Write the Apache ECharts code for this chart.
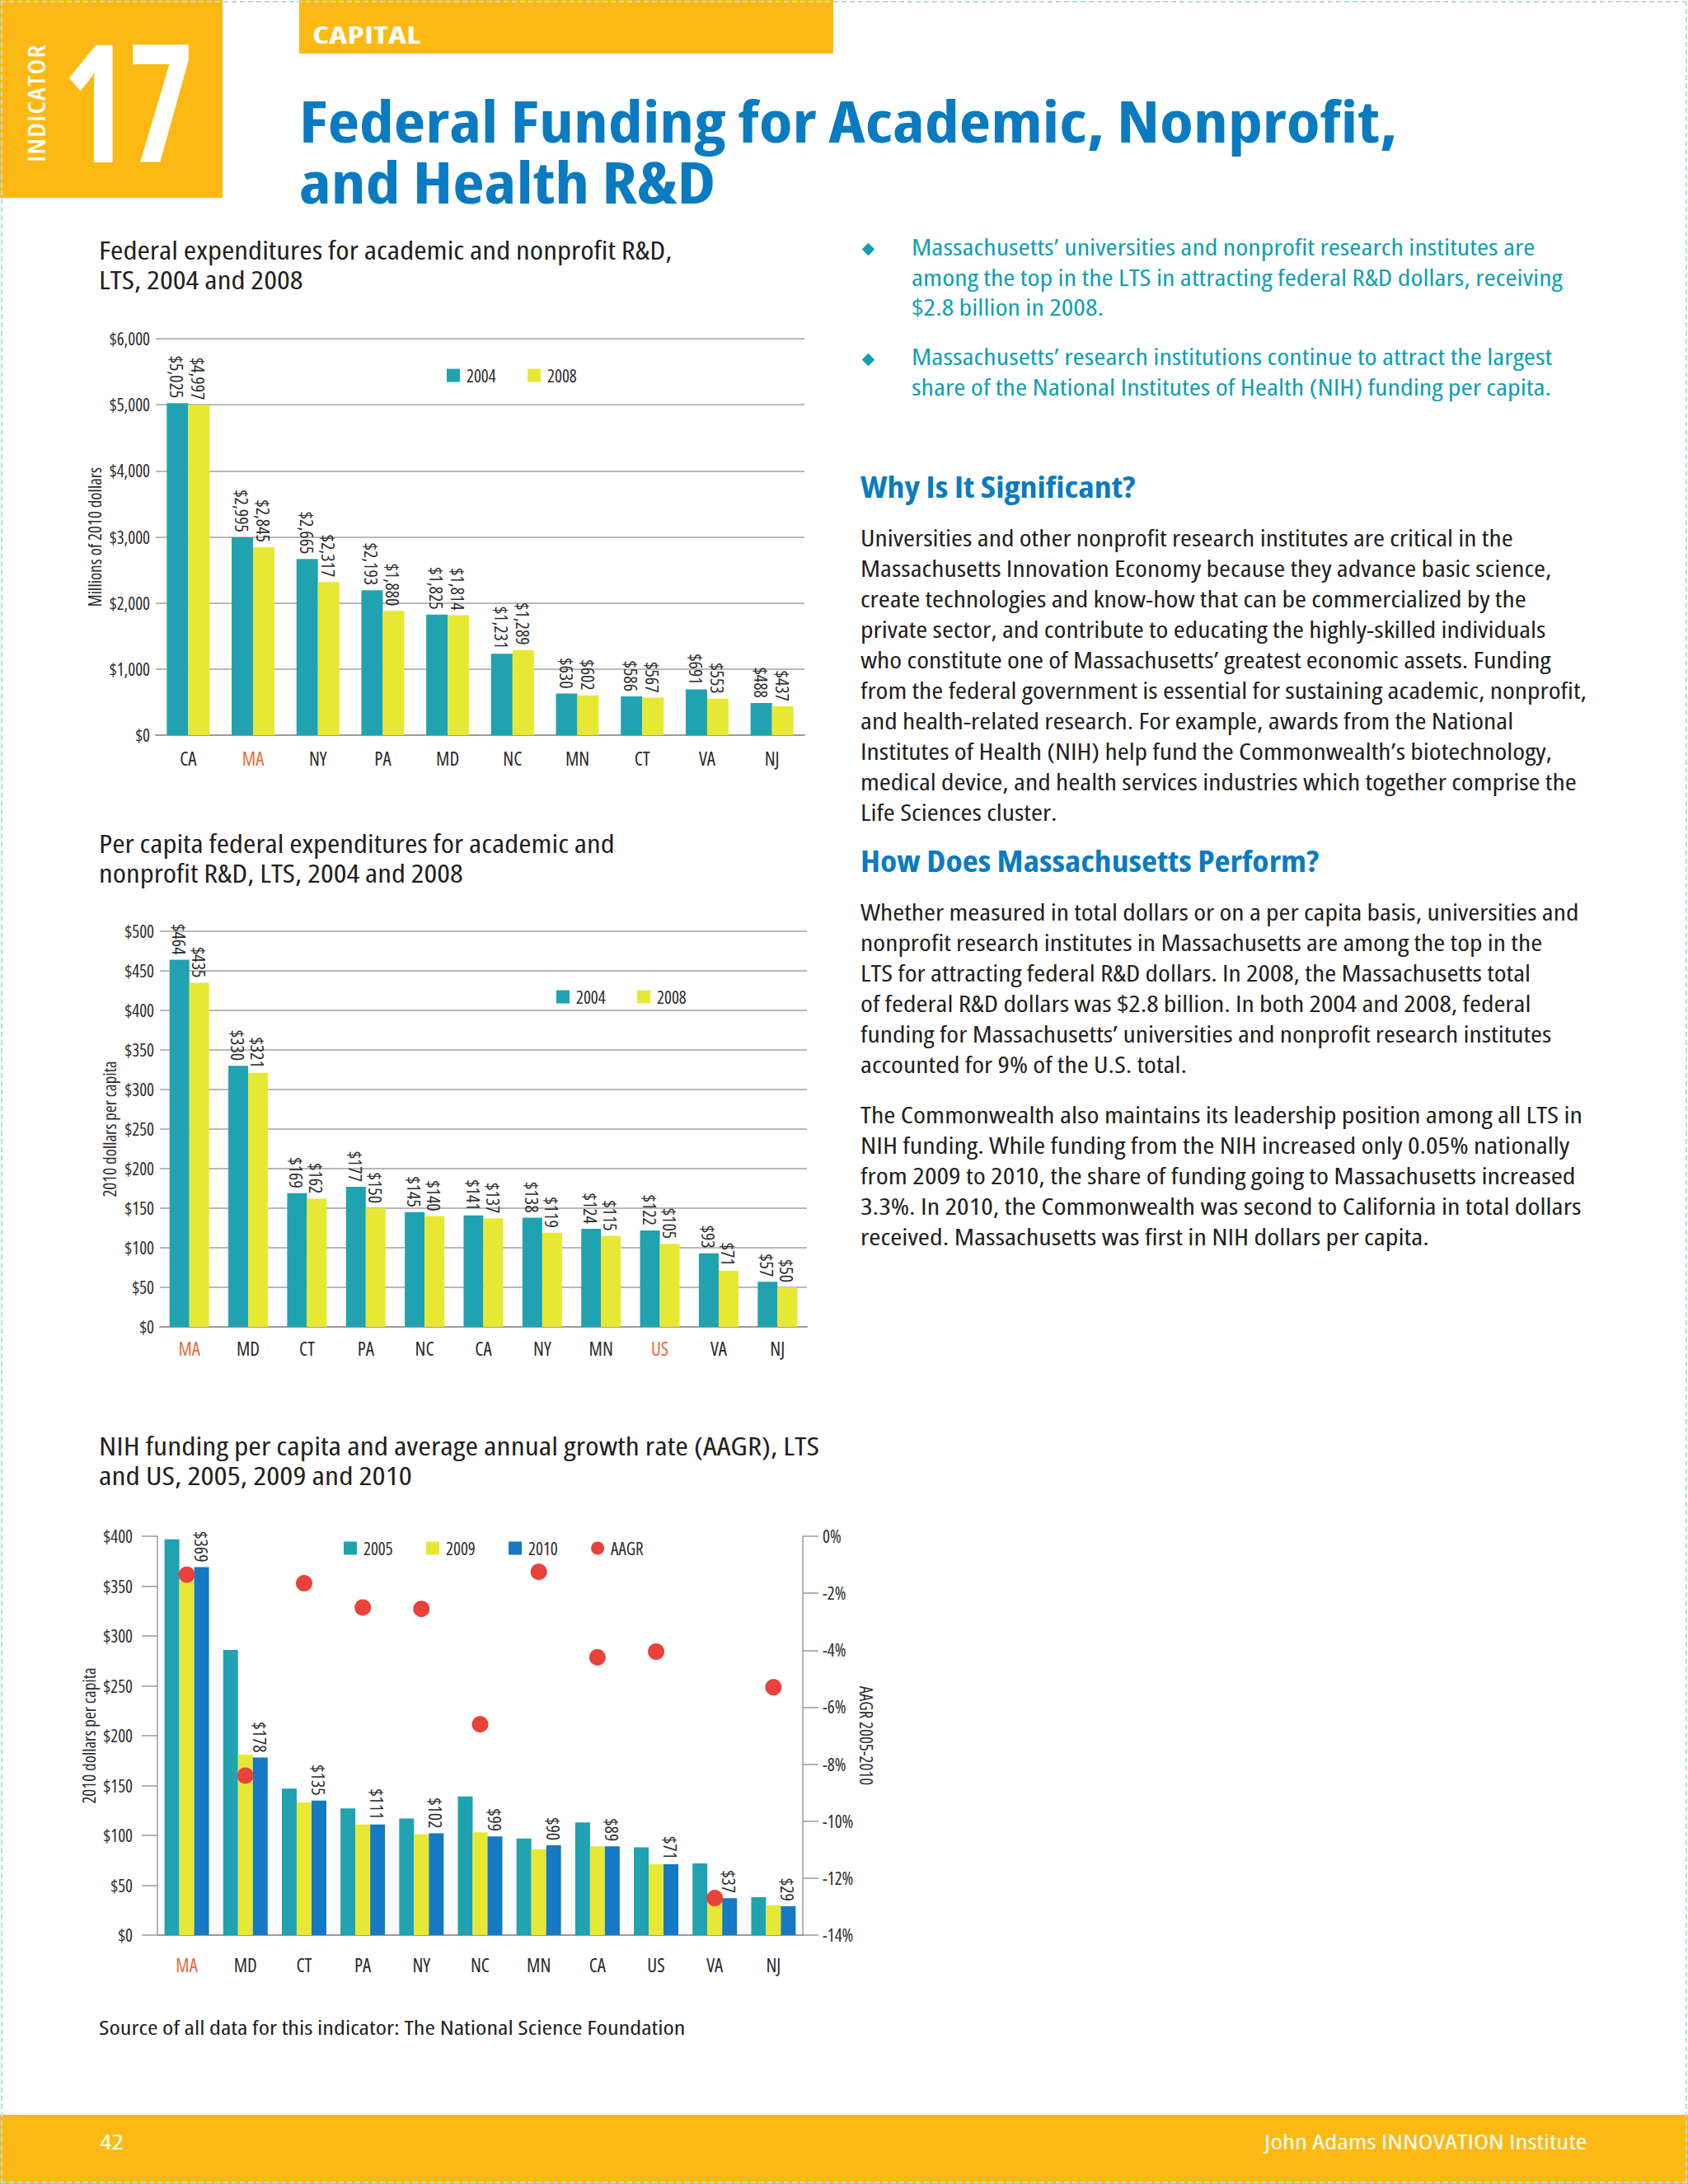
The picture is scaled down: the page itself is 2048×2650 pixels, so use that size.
<!DOCTYPE html>
<html>
<head>
<meta charset="utf-8">
<script src="https://cdn.jsdelivr.net/npm/echarts@6/dist/echarts.min.js"></script>
<style>
  html, body { margin: 0; padding: 0; background: #fff; }
  #page { position: relative; width: 2048px; height: 2650px; overflow: hidden;
          font-family: "Open Sans", sans-serif; font-stretch: 80%; color: #231f20; }
  .abs { position: absolute; white-space: nowrap; }
  .border { position: absolute; left: 1px; top: 1px; width: 2042px; height: 2644px;
            border: 2px dashed #b7ddd6; z-index: 5; pointer-events: none; }
  .yel { position: absolute; background: #fdb913; }
  .chart { position: absolute; }
  .chart text { font-stretch: 75% !important; }
  .diamond { position: absolute; width: 11px; height: 11px; background: #0fa0b2; transform: rotate(45deg); }
  .bullet { color: #0fa0b2; font-size: 28px; line-height: 36.5px; }
  .body { font-size: 28px; line-height: 37px; }
  .head { color: #0a7bc1; font-weight: bold; font-size: 36px; line-height: 40px; }
  .ctitle { font-size: 30px; line-height: 36px; }
</style>
</head>
<body>
<div id="page">
  <div class="border"></div>

  <!-- header -->
  <div class="yel" style="left:0;top:0;width:270px;height:240px"></div>
  <div class="abs" id="indicator" style="left:43px;top:125px;color:#fff;font-weight:600;font-size:29px;line-height:29px;letter-spacing:1px">INDICATOR</div>
  <div class="abs fit" data-w="159" style="left:76px;top:20px;color:#fff;font-weight:bold;font-size:199px;line-height:199px">17</div>
  <div class="yel" style="left:363px;top:0;width:648px;height:65px"></div>
  <div class="abs fit" data-w="132" style="left:379px;top:28px;color:#fff;font-weight:bold;font-size:28px;line-height:28px">CAPITAL</div>
  <div class="abs fit" data-w="1332" style="left:363px;top:109px;color:#0a7bc1;font-weight:bold;font-size:70px;line-height:74px">Federal Funding for Academic, Nonprofit,<br>and Health R&amp;D</div>

  <!-- chart titles -->
  <div class="abs ctitle fit" data-w="695" style="left:120px;top:286px">Federal expenditures for academic and nonprofit R&amp;D,<br>LTS, 2004 and 2008</div>
  <div class="abs ctitle fit" data-w="625" style="left:120px;top:1006px">Per capita federal expenditures for academic and<br>nonprofit R&amp;D, LTS, 2004 and 2008</div>
  <div class="abs ctitle fit" data-w="874" style="left:120px;top:1737px">NIH funding per capita and average annual growth rate (AAGR), LTS<br>and US, 2005, 2009 and 2010</div>

  <div id="c1" class="chart" style="left:0;top:370px;width:1000px;height:600px"></div>
  <div id="c2" class="chart" style="left:0;top:1090px;width:1000px;height:600px"></div>
  <div id="c3" class="chart" style="left:0;top:1820px;width:1100px;height:600px"></div>

  <!-- right column -->
  <div class="diamond" style="left:1048px;top:297px"></div>
  <div class="abs bullet fit" data-w="790" style="left:1106px;top:281px">Massachusetts’ universities and nonprofit research institutes are<br>among the top in the LTS in attracting federal R&amp;D dollars, receiving<br>$2.8 billion in 2008.</div>
  <div class="diamond" style="left:1048px;top:431px"></div>
  <div class="abs bullet fit" data-w="777" style="left:1106px;top:414px">Massachusetts’ research institutions continue to attract the largest<br>share of the National Institutes of Health (NIH) funding per capita.</div>

  <div class="abs head fit" data-w="333" style="left:1044px;top:571px">Why Is It Significant?</div>
  <div class="abs body fit" data-w="881" style="left:1044px;top:634px">Universities and other nonprofit research institutes are critical in the<br>Massachusetts Innovation Economy because they advance basic science,<br>create technologies and know-how that can be commercialized by the<br>private sector, and contribute to educating the highly-skilled individuals<br>who constitute one of Massachusetts’ greatest economic assets. Funding<br>from the federal government is essential for sustaining academic, nonprofit,<br>and health-related research. For example, awards from the National<br>Institutes of Health (NIH) help fund the Commonwealth’s biotechnology,<br>medical device, and health services industries which together comprise the<br>Life Sciences cluster.</div>

  <div class="abs head fit" data-w="556" style="left:1044px;top:1025px">How Does Massachusetts Perform?</div>
  <div class="abs body fit" data-w="872" style="left:1044px;top:1088px">Whether measured in total dollars or on a per capita basis, universities and<br>nonprofit research institutes in Massachusetts are among the top in the<br>LTS for attracting federal R&amp;D dollars. In 2008, the Massachusetts total<br>of federal R&amp;D dollars was $2.8 billion. In both 2004 and 2008, federal<br>funding for Massachusetts’ universities and nonprofit research institutes<br>accounted for 9% of the U.S. total.</div>
  <div class="abs body fit" data-w="876" style="left:1044px;top:1334px">The Commonwealth also maintains its leadership position among all LTS in<br>NIH funding. While funding from the NIH increased only 0.05% nationally<br>from 2009 to 2010, the share of funding going to Massachusetts increased<br>3.3%. In 2010, the Commonwealth was second to California in total dollars<br>received. Massachusetts was first in NIH dollars per capita.</div>

  <!-- source + footer -->
  <div class="abs fit" data-w="712" style="left:120px;top:2445px;font-size:24px;line-height:30px">Source of all data for this indicator: The National Science Foundation</div>
  <div class="yel" style="left:0;top:2566px;width:2048px;height:84px"></div>
  <div class="abs fit" data-w="29" style="left:121px;top:2583px;color:#fff;font-size:26px;line-height:30px">42</div>
  <div class="abs fit" data-w="392" data-o="right" style="right:122px;top:2583px;color:#fff;font-size:26px;line-height:30px">John Adams INNOVATION Institute</div>
</div>

<script>
// chart 1: federal R&D, millions of 2010 dollars
var states1 = ['CA', 'MA', 'NY', 'PA', 'MD', 'NC', 'MN', 'CT', 'VA', 'NJ'];
var total2004 = [5025, 2995, 2665, 2193, 1825, 1231, 630, 586, 691, 488];
var total2008 = [4997, 2845, 2317, 1880, 1814, 1289, 602, 567, 553, 437];

// chart 2: federal R&D per capita
var states2 = ['MA', 'MD', 'CT', 'PA', 'NC', 'CA', 'NY', 'MN', 'US', 'VA', 'NJ'];
var perCap2004 = [464, 330, 169, 177, 145, 141, 138, 124, 122, 93, 57];
var perCap2008 = [435, 321, 162, 150, 140, 137, 119, 115, 105, 71, 50];

// chart 3: NIH funding per capita + AAGR (%)
var states3 = ['MA', 'MD', 'CT', 'PA', 'NY', 'NC', 'MN', 'CA', 'US', 'VA', 'NJ'];
var nih2005 = [397, 286, 147, 127, 117, 139, 97, 113, 88, 72, 38];
var nih2009 = [355, 181, 133, 111, 101, 103, 86, 89, 71, 38, 30];
var nih2010 = [369, 178, 135, 111, 102, 99, 90, 89, 71, 37, 29];
var aagr = [-1.35, -8.4, -1.65, -2.5, -2.55, -6.6, -1.25, -4.25, -4.05, -12.7, -5.3];

var highlight1 = ['MA'];
var highlight2 = ['MA', 'US'];
var highlight3 = ['MA'];

var FONT = '"Open Sans", sans-serif';
var TEAL = '#20a2b0', YELLOW = '#e7e834', BLUE = '#1579c3', RED = '#e8423a', ORANGE = '#ec6a3c';
var TXT = '#2b2b2b', GRID = '#b9b9b9', AXIS = '#9a9a9a';

function money(v) { return '$' + v.toLocaleString('en-US'); }

function cats(list, hl) {
    return list.map(function (s) {
        return hl.indexOf(s) >= 0 ? { value: s, textStyle: { color: ORANGE } } : s;
    });
}

function barLabel(show) {
    return {
        show: show, position: 'top', rotate: -90, align: 'right', verticalAlign: 'middle',
        distance: 6, fontFamily: FONT, fontSize: 22, color: TXT,
        formatter: function (p) { return money(p.value); }
    };
}

/**
 * two-series bar chart (charts 1 and 2)
 */
function makeBars(id, c) {
    var myChart = echarts.init(document.getElementById(id), null, { renderer: 'svg' });
    var option = {
        animation: false,
        textStyle: { fontFamily: FONT },
        grid: c.grid,
        legend: {
            left: c.legendLeft, top: c.legendTop, icon: 'rect', itemWidth: 16, itemHeight: 16,
            itemGap: 26, textStyle: { fontFamily: FONT, fontSize: 21, color: TXT, padding: [0, 0, 0, 3] },
            data: ['2004', '2008']
        },
        xAxis: {
            type: 'category', data: cats(c.cats, c.hl),
            axisLine: { lineStyle: { color: AXIS, width: 2 } },
            axisTick: { show: false },
            axisLabel: { fontFamily: FONT, fontSize: 23, color: TXT, margin: c.xMargin }
        },
        yAxis: {
            type: 'value', min: 0, max: c.max, interval: c.interval,
            name: c.yName, nameLocation: 'middle', nameGap: c.nameGap, nameMoveOverlap: false,
            nameTextStyle: { fontFamily: FONT, fontSize: 21, color: TXT },
            axisLine: { show: false }, axisTick: { show: false },
            axisLabel: { fontFamily: FONT, fontSize: 21, color: TXT, margin: 7, formatter: money },
            splitLine: { lineStyle: { color: GRID, width: 2 } }
        },
        series: [
            { name: '2004', type: 'bar', data: c.a, barWidth: c.barWidth, barGap: '0%',
              itemStyle: { color: TEAL }, label: barLabel(true) },
            { name: '2008', type: 'bar', data: c.b, barWidth: c.barWidth, barGap: '0%',
              itemStyle: { color: YELLOW }, label: barLabel(true) }
        ]
    };
    myChart.setOption(option);
    return myChart;
}

makeBars('c1', {
    grid: { left: 189, top: 41, width: 787, height: 481 },
    legendLeft: 537, legendTop: 70,
    cats: states1, hl: highlight1, a: total2004, b: total2008,
    max: 6000, interval: 1000, barWidth: 26, xMargin: 16,
    yName: 'Millions of 2010 dollars', nameGap: 64
});

makeBars('c2', {
    grid: { left: 194, top: 40, width: 785, height: 480 },
    legendLeft: 670, legendTop: 104,
    cats: states2, hl: highlight2, a: perCap2004, b: perCap2008,
    max: 500, interval: 50, barWidth: 24, xMargin: 14,
    yName: '2010 dollars per capita', nameGap: 51
});

// chart 3: three bars + AAGR dots on a right axis
(function () {
    var myChart = echarts.init(document.getElementById('c3'), null, { renderer: 'svg' });
    var sideAxis = {
        axisLine: { show: true, lineStyle: { color: AXIS, width: 1.5 } },
        axisTick: { show: true, length: 19, lineStyle: { color: AXIS, width: 1.5 } },
        splitLine: { show: false },
        nameLocation: 'middle', nameMoveOverlap: false,
        nameTextStyle: { fontFamily: FONT, fontSize: 21, color: TXT }
    };
    var option = {
        animation: false,
        textStyle: { fontFamily: FONT },
        grid: { left: 191, top: 44, width: 783, height: 484 },
        legend: {
            left: 412, top: 43, icon: 'rect', itemWidth: 16, itemHeight: 16, itemGap: 28,
            textStyle: { fontFamily: FONT, fontSize: 21, color: TXT, padding: [0, 0, 0, 3] },
            data: ['2005', '2009', '2010', { name: 'AAGR', icon: 'circle' }]
        },
        xAxis: {
            type: 'category', data: cats(states3, highlight3),
            axisLine: { lineStyle: { color: AXIS, width: 2 } },
            axisTick: { show: false },
            axisLabel: { fontFamily: FONT, fontSize: 23, color: TXT, margin: 24 }
        },
        yAxis: [
            Object.assign({}, sideAxis, {
                type: 'value', min: 0, max: 400, interval: 50, position: 'left',
                name: '2010 dollars per capita', nameGap: 73,
                axisLabel: { fontFamily: FONT, fontSize: 21, color: TXT, margin: 30, formatter: money }
            }),
            Object.assign({}, sideAxis, {
                type: 'value', min: -14, max: 0, interval: 2, position: 'right',
                name: 'AAGR 2005-2010', nameGap: 66, nameRotate: -90,
                axisLabel: { fontFamily: FONT, fontSize: 21, color: TXT, margin: 24,
                             formatter: function (v) { return v + '%'; } }
            })
        ],
        series: [
            { name: '2005', type: 'bar', data: nih2005, barWidth: 18, barGap: '0%',
              itemStyle: { color: TEAL } },
            { name: '2009', type: 'bar', data: nih2009, barWidth: 18, barGap: '0%',
              itemStyle: { color: YELLOW } },
            { name: '2010', type: 'bar', data: nih2010, barWidth: 18, barGap: '0%',
              itemStyle: { color: BLUE }, label: barLabel(true) },
            { name: 'AAGR', type: 'scatter', yAxisIndex: 1, data: aagr, symbolSize: 20,
              itemStyle: { color: RED, opacity: 1 } }
        ]
    };
    myChart.setOption(option);
})();

// squeeze text blocks to the widths measured on the reference
document.querySelectorAll('.fit').forEach(function (el) {
    el.style.display = 'inline-block';
    var nat = el.offsetWidth;
    el.style.transformOrigin = (el.dataset.o || 'left') + ' top';
    el.style.transform = 'scaleX(' + (el.dataset.w / nat) + ')';
});
(function () {
    var el = document.getElementById('indicator');
    var nat = el.offsetWidth;
    el.style.transform = 'translate(-50%,-50%) rotate(-90deg) scaleX(' + (144 / nat) + ')';
})();
</script>
</body>
</html>
